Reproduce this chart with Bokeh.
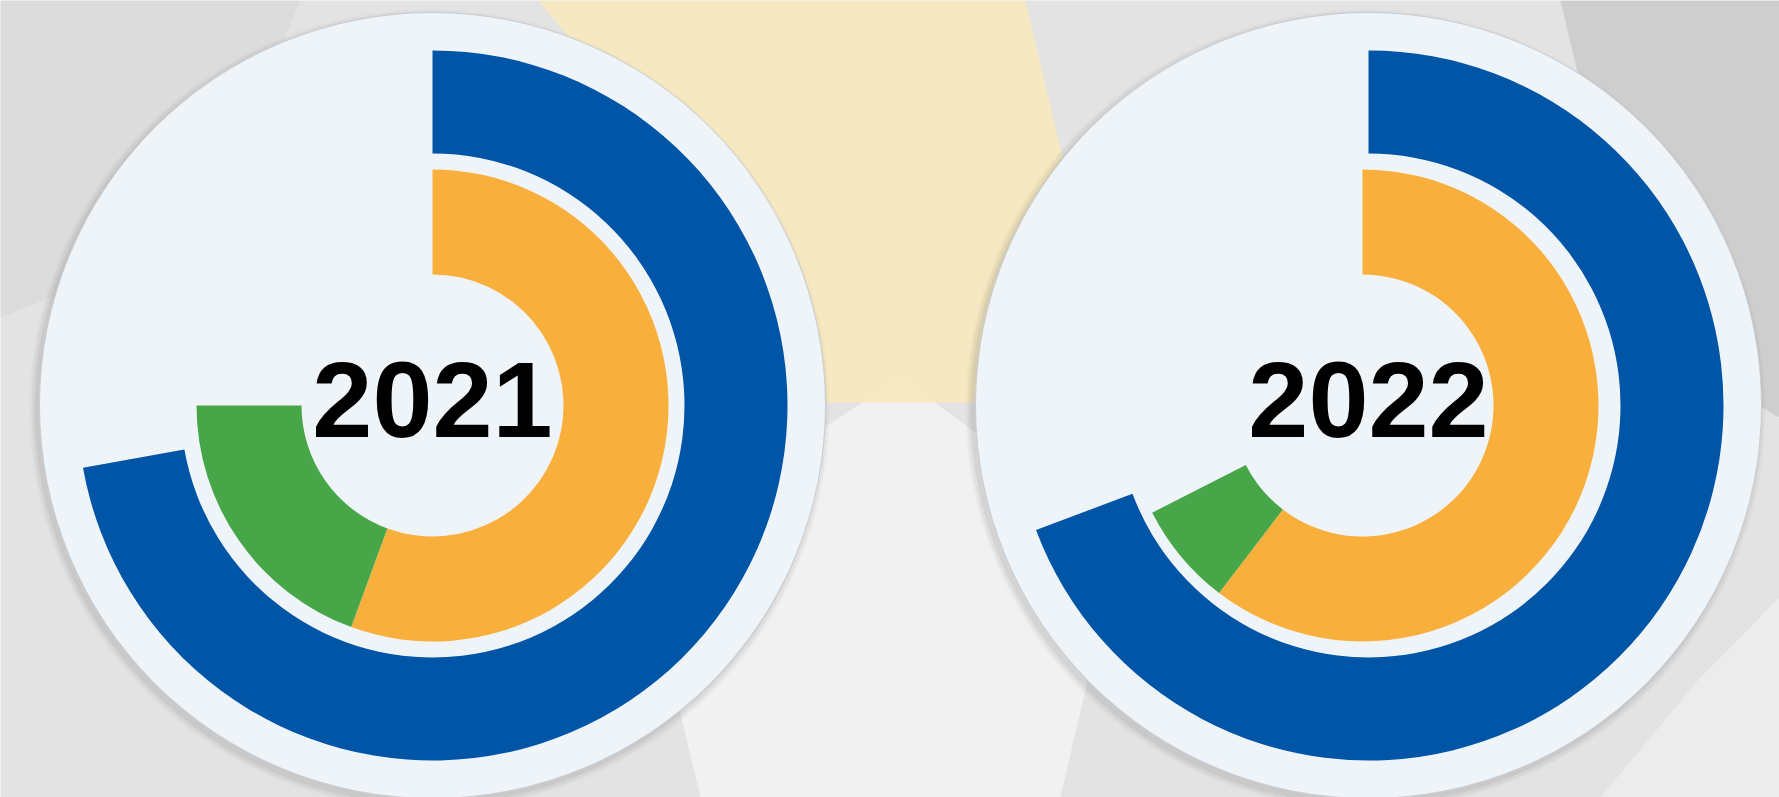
from bokeh.plotting import figure
from bokeh.models import Range1d, ColumnDataSource
from bokeh.core.properties import value
from bokeh.embed import file_html
from bokeh.resources import INLINE

# ---- data (percent of a full turn, clockwise from 12 o'clock) ----
years = ["2021", "2022"]
blue_pct = [72.2, 69.3]
orange_pct = [55.6, 60.4]
green_pct = [19.4, 7.1]

# ---- layout ----
W, H = 1779, 797
cx = [432, 1368]
cx_inner = [432, 1362]
cy = [392, 392]

BLUE = "#0055A6"
ORANGE = "#F9AF3B"
GREEN = "#46A648"
CIRCLE = "#EFF4F9"

p = figure(width=W, height=H, x_range=Range1d(0, W), y_range=Range1d(0, H),
           output_backend="svg", toolbar_location=None, min_border=0,
           background_fill_color="#E3E3E3", border_fill_color="#E3E3E3")
p.axis.visible = False
p.grid.visible = False
p.outline_line_color = None

# background (photo-like soft shapes)
p.patch([0, 300, 200, 0], [797, 797, 560, 480], color="#D8D8D8", alpha=0.7, line_color=None)
p.patch([700, 1060, 1120, 900, 640], [0, 0, 260, 420, 250], color="#F2F2F2", alpha=0.9, line_color=None)
p.patch([1560, 1779, 1779, 1640], [797, 797, 380, 460], color="#C8C8C8", alpha=0.8, line_color=None)
p.patch([1600, 1779, 1779, 1700], [0, 0, 200, 120], color="#EEEEEE", alpha=0.8, line_color=None)
# yellow translucent band
p.patch([538, 1025, 1062, 1050, 990, 975, 820, 700],
        [797, 797, 640, 560, 440, 395, 395, 600],
        color="#F7E9BC", alpha=0.9, line_color=None)

# circle shadows and discs
shadow_x = [c - 3 for c in cx]
shadow_y = [c - 4 for c in cy]
for r, a in [(400, 0.04), (398, 0.07), (395, 0.10)]:
    p.circle(x=shadow_x, y=shadow_y, radius=r,
             fill_color="#606060", fill_alpha=a, line_color=None)
src = ColumnDataSource(dict(x=cx, y=cy, ty=[y + 6 for y in cy], year=years))
p.circle(x="x", y="y", radius=393, source=src, fill_color=CIRCLE, line_color="#C9CDD1", line_width=1)

# rings
blue_end = [90 - v * 3.6 for v in blue_pct]
orange_end = [90 - v * 3.6 for v in orange_pct]
green_end = [oe - g * 3.6 for oe, g in zip(orange_end, green_pct)]

p.annular_wedge(x=cx, y=cy, inner_radius=252, outer_radius=355,
                start_angle=[90, 90], end_angle=blue_end, start_angle_units="deg",
                end_angle_units="deg", direction="clock", color=BLUE, line_color=None)
p.annular_wedge(x=cx_inner, y=cy, inner_radius=131, outer_radius=236,
                start_angle=[90, 90], end_angle=orange_end, start_angle_units="deg",
                end_angle_units="deg", direction="clock", color=ORANGE, line_color=None)
p.annular_wedge(x=cx_inner, y=cy, inner_radius=131, outer_radius=236,
                start_angle=orange_end, end_angle=green_end, start_angle_units="deg",
                end_angle_units="deg", direction="clock", color=GREEN, line_color=None)

# year labels
p.text(x="x", y="ty", text="year", source=src,
       text_font=value("Liberation Sans"),
       text_font_style="bold", text_font_size="108px", text_color="#000000",
       text_align="center", text_baseline="alphabetic")

open("out.html", "w").write(file_html(p, INLINE))
